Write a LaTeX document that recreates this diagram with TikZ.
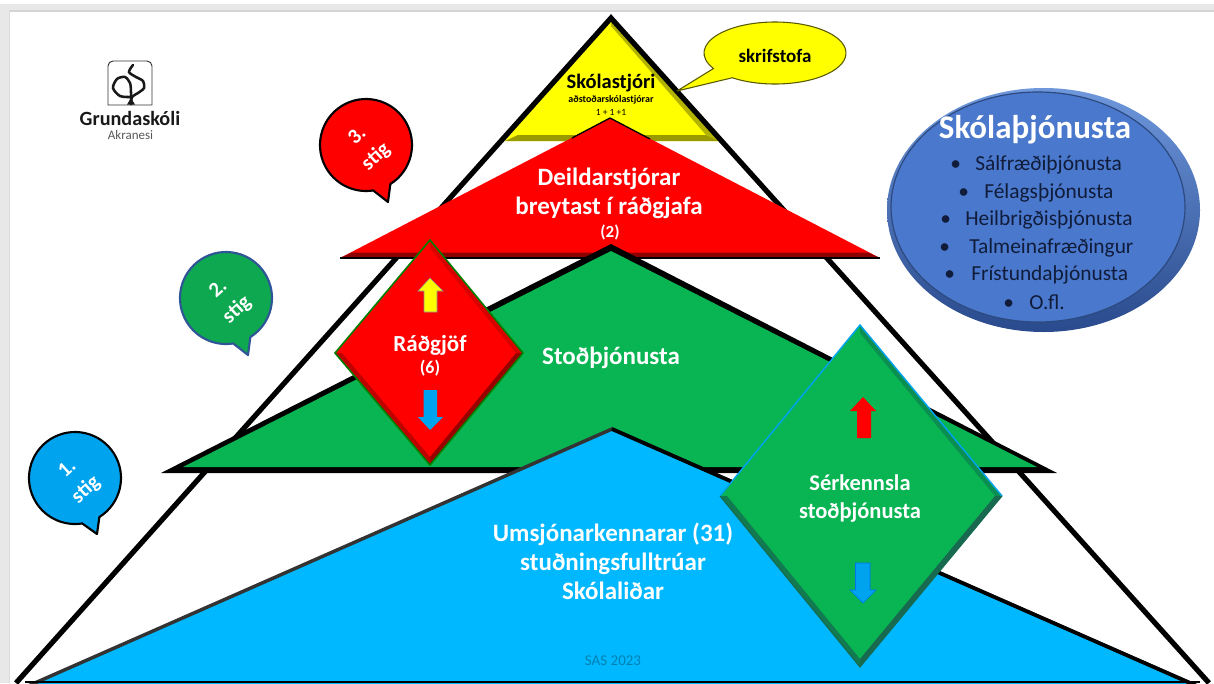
\documentclass[tikz,border=0pt]{standalone}
\usepackage{fontspec}
\setmainfont{Carlito}
\usetikzlibrary{calc}
\definecolor{cyanb}{HTML}{00B8FF}
\definecolor{greenb}{HTML}{08B552}
\definecolor{redb}{HTML}{FF0000}
\definecolor{yellowb}{HTML}{FFFF00}
\definecolor{skyb}{HTML}{00A3EE}
\definecolor{navy}{HTML}{101C3A}
\definecolor{gdark}{HTML}{0A8F50}
\definecolor{gdarker}{HTML}{17694F}
\definecolor{gdarkm}{HTML}{127A50}
\definecolor{rimlight}{HTML}{6E97DC}
\definecolor{rimdark}{HTML}{294A8C}
\definecolor{ellblue}{HTML}{4A78CC}
\definecolor{ellline}{HTML}{2C4A80}
\definecolor{bubgreen}{HTML}{0DA850}
\definecolor{bubline}{HTML}{2F5597}
\newcommand{\px}[1]{\fontsize{\dimexpr#1pt*3/4\relax}{\dimexpr#1pt*9/10\relax}\selectfont}
\tikzset{
  x=0.75pt,y=-0.75pt,
  lbl/.style={inner sep=0pt,align=center},
  whitebold/.style={lbl,text=white,font=\bfseries},
  stig/.style={lbl,text=white,rotate=42,font=\px{21}\bfseries},
  bubble/.style={line width=1.6pt,line join=round},
  litem/.style={inner sep=0pt,anchor=west,text=navy,font=\px{21.4}},
  tri/.style={line join=miter,miter limit=20},
  block/.style={draw=black!45,line width=0.4pt},
  logoline/.style={line width=1.9pt,line cap=round,black!90}
}
% name, centre, start angle, end angle, tip, style
\newcommand{\speech}[6]{%
  \coordinate (#1c) at #2;
  \draw[#6] ($(#1c)+(#3:46)$) arc[start angle=#3,end angle=#4,radius=46] -- #5 -- cycle;
}
\newcommand{\listitem}[5]{% name, bullet x, text x, y, text
  \pgfmathsetmacro{\gapw}{(#3-#2)*0.75}
  \node[litem] (#1) at (#2,#4) {\makebox[\gapw pt][l]{•}#5};
}
\begin{document}
\begin{tikzpicture}
\useasboundingbox (0,0) rectangle (1214,683);
% window frame
\fill[white] (0,0) rectangle (1214,683);
\fill[black!9] (0,4) rectangle (1214,11);
\fill[black!9] (0,4) rectangle (9,683);
\fill[black!17] (9,10) rectangle (1214,11.5);
\fill[black!14] (9,10) rectangle (10,683);

% logo
\draw[black!80,line width=0.7pt] (108,105) -- (108,66) arc[start angle=180,end angle=270,radius=5] -- (147,61) arc[start angle=-90,end angle=0,radius=5] -- (152,105) -- cycle;
\draw[logoline] plot[smooth] coordinates {(133,65) (129,72) (136,77) (143,81) (144,88) (138,93) (132,97) (131,104)};
\draw[logoline] plot[smooth] coordinates {(130,97) (120,96) (113,88) (117,79) (125,77) (130,83) (131,92) (131,104)};
\fill[black!90] (127,104.5) -- (131,98) -- (135,104.5) -- cycle;
\node[lbl,text=black!90,font=\px{20.2}\bfseries] (gr) at (130,118.5) {Grundaskóli};
\node[lbl,text=black!65,font=\px{13}] (ak) at (130.5,135.5) {Akranesi};

% yellow triangle
\coordinate (ya) at (611,17);
\coordinate (yl) at (505,141);
\coordinate (yr) at (719,141);
\fill[yellowb] (ya) -- (yl) -- (yr) -- cycle;
\fill[black!40!yellowb] (yl) -- (yr) -- (706,135) -- (518,135) -- cycle;
\fill[black!30!yellowb] (ya) -- (yr) -- (706,135) -- (611,26) -- cycle;

% big outline
\coordinate (oa) at (611,18);
\coordinate (ol) at (16,683);
\coordinate (or) at (1209,683);
\draw[black,line width=3.9pt,line join=miter] (ol) -- (oa) -- (or);

% red triangle
\coordinate (ra) at (610,118);
\coordinate (rl) at (340,258);
\coordinate (rr) at (880,258);
\fill[redb] (ra) -- (rl) -- (rr) -- cycle;
\fill[black!45!redb] (rl) -- (rr) -- (868,252.5) -- (352,252.5) -- cycle;
\draw[black,line width=1pt] (rl) -- (rr);
\draw[black,line width=1pt] (572,138) -- (ra) -- (650,139);

% green triangle
\fill[black] (611,244) -- (161,473) -- (1057,473) -- cycle;
\fill[greenb] (611,251) -- (183,467) -- (1037,467) -- cycle;

% blue triangle
\coordinate (ba) at (612,429);
\coordinate (bl) at (28,686);
\coordinate (br) at (1197,686);
\draw[tri,fill=cyanb,draw=black!80,line width=2.6pt] (ba) -- (bl) -- (br) -- cycle;
\draw[black,line width=2.8pt] (ba) -- (br);
\fill[black] (25,681) rectangle (1200,683);

% red diamond
\coordinate (dt) at (430,240);
\coordinate (dr) at (523,353);
\coordinate (db) at (430,465);
\coordinate (dl) at (335,353);
\fill[redb] (dt) -- (dr) -- (db) -- (dl) -- cycle;
\fill[red!85!black] (dt) -- (dr) -- (516,353) -- (430,248) -- cycle;
\fill[red!60!black] (dr) -- (db) -- (430,457) -- (516,353) -- cycle;
\fill[red!75!black] (db) -- (dl) -- (342,353) -- (430,457) -- cycle;
\draw[line width=1.2pt,draw=green!50!black,line join=miter] (dr) -- (db) -- (dl) -- (dt) -- (dr);

% red diamond arrows
\draw[block,fill=yellowb] (430,278) -- (443,291) -- (437,291) -- (437,312) -- (424,312) -- (424,291) -- (418,291) -- cycle;
\fill[skyb] (423.5,390) -- (437,390) -- (437,417) -- (443,417) -- (430,430) -- (418,417) -- (423.5,417) -- cycle;

% green diamond
\coordinate (et) at (860,325);
\coordinate (er) at (1002,496);
\coordinate (eb) at (860,667);
\coordinate (el) at (720,496);
\fill[greenb] (et) -- (er) -- (eb) -- (el) -- cycle;
\fill[gdark] (et) -- (er) -- (995,496) -- (860,333) -- cycle;
\fill[gdarker] (er) -- (eb) -- (860,659) -- (995,496) -- cycle;
\fill[gdarkm] (eb) -- (el) -- (727,496) -- (860,659) -- cycle;
\draw[line width=1.1pt,draw=skyb,line join=miter] (el) -- (et) -- (er);
\draw[line width=0.8pt,draw=gdarker,line join=miter] (er) -- (eb) -- (el);

% green diamond arrows
\fill[redb] (863,397) -- (876,411) -- (871,411) -- (871,438) -- (857,438) -- (857,411) -- (850,411) -- cycle;
\draw[fill=skyb,draw=blue!30!skyb,line width=0.5pt] (855.5,563) -- (870,563) -- (870,590) -- (876,590) -- (863,603) -- (850,590) -- (855.5,590) -- cycle;

% callout
\coordinate (cc) at (775,53);
\coordinate (ctip) at (677,91);
\draw[fill=yellowb,draw=yellowb!35!black,line width=0.8pt,line join=round]
  ($(cc)+(127:71 and 31)$) arc[start angle=127,end angle=-210,x radius=71,y radius=31]
  -- (ctip) -- cycle;

% skolathjonusta ellipse
\coordinate (ec) at (1043.5,210);
\coordinate (ei) at (1038,207);
\shade[top color=rimlight,bottom color=rimdark] (ec) ellipse [x radius=156.5,y radius=122];
\draw[fill=ellblue,draw=ellline,line width=0.9pt] (ei) ellipse [x radius=147,y radius=115];

% bubbles
\speech{bt}{(366,145)}{58}{-279}{(388,202)}{bubble,fill=redb,draw=black}
\speech{bm}{(226,298)}{58}{-279}{(248,355)}{bubble,fill=bubgreen,draw=bubline}
\speech{bb}{(75,478)}{58}{-279}{(97,534)}{bubble,fill=skyb,draw=black}

% labels
\node[stig] (s3) at (367,147) {3.\\[2pt]stig};
\node[stig] (s2) at (228,300) {2.\\[2pt]stig};
\node[stig] (s1) at (77,480) {1.\\[2pt]stig};

\node[lbl,font=\px{20.5}\bfseries] (sk) at (611,83) {Skólastjóri};
\node[lbl,font=\px{10}\bfseries] (ad) at (611,100) {aðstoðarskólastjórar};
\node[lbl,font=\px{9.5}] (nn) at (611,112) {1 + 1 +1};
\node[lbl,font=\px{19}\bfseries] (sf) at (775,56) {skrifstofa};

\node[whitebold,font=\px{25}\bfseries] (de) at (609,179) {Deildarstjórar};
\node[whitebold,font=\px{25}\bfseries] (bt2) at (609,208) {breytast í ráðgjafa};
\node[whitebold,font=\px{17}\bfseries] (tv) at (610,232) {(2)};

\node[whitebold,font=\px{23}\bfseries] (ra2) at (430,345) {Ráðgjöf};
\node[whitebold,font=\px{18}\bfseries] (ra6) at (430,368) {(6)};
\node[whitebold,font=\px{25}\bfseries] (st) at (611,358) {Stoðþjónusta};
\node[whitebold,font=\px{22.5}\bfseries] (se1) at (860,483) {Sérkennsla};
\node[whitebold,font=\px{22.5}\bfseries] (se2) at (860,512) {stoðþjónusta};
\node[whitebold,font=\px{25}\bfseries] (um1) at (613,534) {Umsjónarkennarar (31)};
\node[whitebold,font=\px{25}\bfseries] (um2) at (613,564) {stuðningsfulltrúar};
\node[whitebold,font=\px{25}\bfseries] (um3) at (613,591) {Skólaliðar};
\node[lbl,text=black!30!cyanb,font=\px{15}] (sas) at (613,661) {SAS 2023};

\node[whitebold,font=\px{33}\bfseries] (sj) at (1035,130) {Skólaþjónusta};
\listitem{i1}{950}{975}{164.5}{Sálfræðiþjónusta}
\listitem{i2}{958}{984}{192.5}{Félagsþjónusta}
\listitem{i3}{940}{965}{219.5}{Heilbrigðisþjónusta}
\listitem{i4}{939}{969}{247.5}{Talmeinafræðingur}
\listitem{i5}{944}{971}{274.5}{Frístundaþjónusta}
\listitem{i6}{1003}{1029}{302}{O.fl.}
\end{tikzpicture}
\end{document}
